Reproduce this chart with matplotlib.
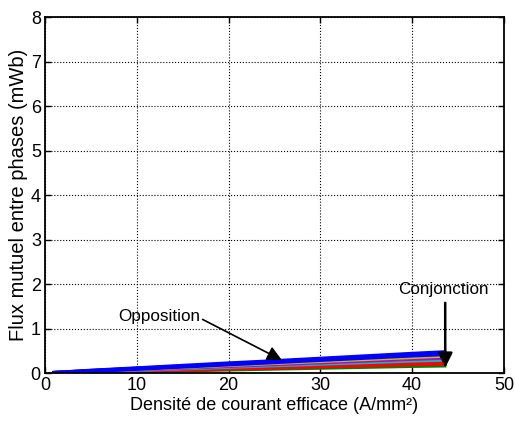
import matplotlib
matplotlib.use("Agg")
import matplotlib.pyplot as plt

plt.rcParams['font.family'] = ['Liberation Sans', 'DejaVu Sans']

x = [1, 5, 10, 15, 20, 25, 30, 35, 40, 43.5]
green = [0.0, 0.02, 0.04, 0.06, 0.08, 0.10, 0.12, 0.14, 0.16, 0.17]
red1 = [0.0, 0.025, 0.05, 0.075, 0.10, 0.125, 0.15, 0.175, 0.20, 0.215]
red2 = [0.0, 0.03, 0.06, 0.09, 0.12, 0.15, 0.18, 0.21, 0.24, 0.26]
cyan = [0.0, 0.035, 0.07, 0.105, 0.14, 0.175, 0.21, 0.245, 0.28, 0.30]
magenta = [0.0, 0.04, 0.08, 0.12, 0.16, 0.20, 0.24, 0.28, 0.32, 0.345]
yellow = [0.0, 0.045, 0.09, 0.135, 0.18, 0.225, 0.27, 0.315, 0.36, 0.39]
blue1 = [0.0, 0.045, 0.095, 0.145, 0.195, 0.245, 0.295, 0.345, 0.395, 0.425]
blue2 = [0.0, 0.05, 0.105, 0.16, 0.215, 0.265, 0.32, 0.375, 0.43, 0.465]

series = [(green, 'g'), (red1, 'r'), (red2, 'r'), (cyan, 'c'), (magenta, 'm'),
          (yellow, 'y'), (blue1, 'b'), (blue2, 'b')]

fig = plt.figure(figsize=(5.15, 4.26), dpi=100)
ax = fig.add_axes([0.0874, 0.1244, 0.8912, 0.8356])
for vals, c in series:
    ax.plot(x, vals, color=c, linewidth=3, solid_joinstyle='miter')

ax.set_xlim(0, 50)
ax.set_ylim(0, 8)
ax.set_xticks([0, 10, 20, 30, 40, 50])
ax.set_yticks(range(0, 9))
ax.grid(True, linestyle=':', color='black', linewidth=0.8)
ax.tick_params(direction='in', top=True, right=True, labelsize=13, length=4, width=1, pad=3)
for s in ax.spines.values():
    s.set_linewidth(1.3)
ax.set_xlabel('Densité de courant efficace (A/mm²)', fontsize=13, labelpad=2)
ax.set_ylabel('Flux mutuel entre phases (mWb)', fontsize=14.5, labelpad=2)

ax.annotate('Opposition', xy=(25.8, 0.29), xytext=(12.4, 1.27),
            ha='center', va='center', fontsize=12.3,
            arrowprops=dict(arrowstyle='-|>', color='black', lw=1.2,
                            mutation_scale=22, shrinkA=0, shrinkB=0,
                            relpos=(1.0, 0.4)))
ax.annotate('Conjonction', xy=(43.6, 0.12), xytext=(43.4, 1.87),
            ha='center', va='center', fontsize=12.3,
            arrowprops=dict(arrowstyle='-|>', color='black', lw=1.8,
                            mutation_scale=22, shrinkA=2, shrinkB=0,
                            relpos=(0.52, 0.0)))

fig.savefig('out.png', dpi=100)
